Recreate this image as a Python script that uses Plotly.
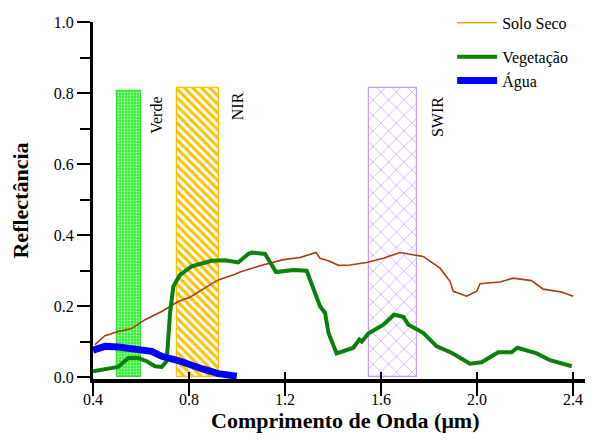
import plotly.graph_objects as go

# ---- data ----
solo_x = [0.408, 0.45, 0.505, 0.561, 0.617, 0.686, 0.755, 0.804, 0.853, 0.922, 0.992, 1.0125, 1.096,
          1.193, 1.2625, 1.329, 1.346, 1.381, 1.423, 1.471, 1.54, 1.61, 1.679, 1.721, 1.776, 1.846,
          1.8875, 1.901, 1.957, 1.999, 2.0125, 2.096, 2.151, 2.227, 2.276, 2.352, 2.401]
solo_y = [0.092, 0.117, 0.129, 0.137, 0.162, 0.185, 0.213, 0.225, 0.246, 0.274, 0.29, 0.296, 0.314,
          0.331, 0.337, 0.351, 0.335, 0.328, 0.315, 0.316, 0.323, 0.335, 0.351, 0.347, 0.34, 0.307,
          0.27, 0.242, 0.228, 0.242, 0.263, 0.268, 0.279, 0.272, 0.248, 0.24, 0.228]

veg_x = [0.40, 0.505, 0.547, 0.589, 0.624, 0.658, 0.686, 0.707, 0.721, 0.735, 0.7625, 0.811, 0.894,
         0.95, 1.005, 1.047, 1.061, 1.117, 1.1625, 1.235, 1.29, 1.311, 1.346, 1.367, 1.381, 1.415,
         1.485, 1.51, 1.52, 1.547, 1.61, 1.654, 1.693, 1.714, 1.7625, 1.776, 1.832, 1.894, 1.971,
         2.019, 2.089, 2.144, 2.168, 2.249, 2.304, 2.395]
veg_y = [0.017, 0.029, 0.054, 0.054, 0.045, 0.031, 0.029, 0.045, 0.181, 0.256, 0.288, 0.312, 0.328,
         0.329, 0.323, 0.347, 0.351, 0.347, 0.296, 0.302, 0.30, 0.265, 0.20, 0.181, 0.125, 0.067,
         0.083, 0.106, 0.10, 0.123, 0.148, 0.176, 0.17, 0.148, 0.132, 0.125, 0.087, 0.069, 0.038,
         0.042, 0.07, 0.07, 0.083, 0.067, 0.048, 0.031]

agua_x = [0.40, 0.45, 0.505, 0.60, 0.644, 0.686, 0.755, 0.853, 0.922, 0.999]
agua_y = [0.076, 0.087, 0.085, 0.080, 0.073, 0.059, 0.047, 0.024, 0.010, 0.003]

band_names = ["Verde", "NIR", "SWIR"]
band_start = [0.50, 0.75, 1.55]
band_end = [0.60, 0.925, 1.75]
band_top = [0.805, 0.815, 0.815]

x_ticks = [0.4, 0.8, 1.2, 1.6, 2.0, 2.4]
y_ticks = [0.0, 0.2, 0.4, 0.6, 0.8, 1.0]
y_minor = [0.1, 0.3, 0.5, 0.7, 0.9]

# ---- styles ----
FONT = "Times New Roman, Liberation Serif, serif"
band_styles = [
    dict(bg="#33f033", fg="#b0ffb0", shape=".", size=3, solidity=0.35, edge="#33dd33"),
    dict(bg="#ffffff", fg="#ffc000", shape="\\", size=6, solidity=0.5, edge="#ffc000"),
    dict(bg="#ffffff", fg="#cc99ff", shape="x", size=11, solidity=0.12, edge="#cc99ff"),
]
label_x = [0.667, 1.0, 1.833]
label_top = [0.794, 0.808, 0.794]

fig = go.Figure()

for i, name in enumerate(band_names):
    s = band_styles[i]
    fig.add_trace(go.Bar(
        x=[(band_start[i] + band_end[i]) / 2], y=[band_top[i]], base=[0],
        width=[band_end[i] - band_start[i]], showlegend=False, hoverinfo="skip",
        marker=dict(color=s["bg"],
                    pattern=dict(shape=s["shape"], fgcolor=s["fg"], bgcolor=s["bg"],
                                 size=s["size"], solidity=s["solidity"], fillmode="replace"),
                    line=dict(color=s["edge"], width=1.2)),
    ))
    fig.add_annotation(x=label_x[i], y=label_top[i], text=name, textangle=-90,
                       showarrow=False, xanchor="center", yanchor="top",
                       font=dict(family=FONT, size=16, color="black"))

# Solo seco (plotted) + legend entry
fig.add_trace(go.Scatter(x=solo_x, y=solo_y, mode="lines", showlegend=False,
                         line=dict(color="#a83c0a", width=1.6)))
fig.add_trace(go.Scatter(x=[None], y=[None], mode="lines", name="Solo Seco",
                         legendgroup="a", line=dict(color="#f5a030", width=1.5)))
fig.add_trace(go.Scatter(x=veg_x, y=veg_y, mode="lines", name="Vegetação",
                         legendgroup="b", line=dict(color="#0a800a", width=4)))
fig.add_trace(go.Scatter(x=agua_x, y=agua_y, mode="lines", name="Água",
                         legendgroup="b", line=dict(color="#0000ff", width=7),
                         xaxis="x2"))

# x-axis title placed as a paper annotation
fig.add_annotation(x=0.514, y=-0.116, xref="paper", yref="paper",
                   text="<b>Comprimento de Onda (μm)</b>", showarrow=False,
                   xanchor="center", yanchor="middle",
                   font=dict(family=FONT, size=22, color="black"))

xr = [0.4, 2.45]
yr = [-0.005, 1.0]

# the page body adds an 8px offset, so the figure is 8px smaller than the window
fig.update_layout(
    width=587, height=434,
    margin=dict(l=85, r=10, t=14, b=63, autoexpand=False),
    paper_bgcolor="white", plot_bgcolor="white",
    barmode="overlay", bargap=0,
    font=dict(family=FONT, size=16, color="black"),
    showlegend=True,
    legend=dict(x=0.73, y=1.045, xanchor="left", yanchor="top",
                bgcolor="rgba(0,0,0,0)", font=dict(family=FONT, size=16),
                tracegroupgap=10, itemwidth=40),
    xaxis=dict(range=xr, tickvals=x_ticks, ticktext=[f"{v:.1f}" for v in x_ticks],
               ticks="outside", ticklen=13, tickwidth=2, tickcolor="black", automargin=False,
               ticklabelstandoff=-10,
               showline=True, linecolor="black", linewidth=4, showgrid=False, zeroline=False,
               tickfont=dict(family=FONT, size=16)),
    xaxis2=dict(range=xr, overlaying="x", anchor="y", side="bottom", automargin=False,
                tickvals=x_ticks[1:], ticks="inside", ticklen=7, tickwidth=2, tickcolor="black",
                showticklabels=False, showline=False, showgrid=False, zeroline=False),
    yaxis=dict(range=yr, tickvals=y_ticks, ticktext=[f"{v:.1f}" for v in y_ticks],
               ticks="outside", ticklen=13, tickwidth=2, tickcolor="black", automargin=False,
               minor=dict(tickvals=y_minor, ticks="outside", ticklen=10, tickwidth=2,
                          tickcolor="black", showgrid=False),
               showline=True, linecolor="black", linewidth=3, showgrid=False, zeroline=False,
               tickfont=dict(family=FONT, size=16),
               title=dict(text="<b>Reflectância</b>", standoff=20,
                          font=dict(family=FONT, size=22))),
)

fig.write_html("out.html")
